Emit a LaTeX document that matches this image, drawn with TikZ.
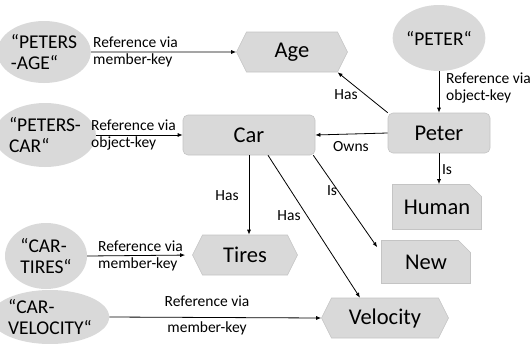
\documentclass[tikz,border=0pt]{standalone}
\usepackage{fontspec}
\setmainfont{Carlito}
\usetikzlibrary{shapes.geometric,shapes.symbols,shapes.misc,arrows.meta}
\definecolor{boxfill}{HTML}{D9D9D9}
\definecolor{boxline}{HTML}{C4C4C4}
\begin{document}
\begin{tikzpicture}[x=1pt,y=-1pt,
  keynode/.style={ellipse,fill=boxfill,draw=none,inner sep=0pt,align=left,
    font=\fontsize{19.5}{21.5}\selectfont},
  roundbox/.style={rectangle,rounded corners=5pt,fill=boxfill,draw=boxline,line width=0.6pt,
    inner sep=0pt,font=\fontsize{22.5}{26}\selectfont},
  hexbox/.style={signal,signal to=west and east,signal pointer angle=127,fill=boxfill,draw=boxline,
    line width=0.6pt,inner sep=0pt,font=\fontsize{22.5}{26}\selectfont},
  cutbox/.style={chamfered rectangle,chamfered rectangle corners=north east,
    chamfered rectangle xsep=6pt,chamfered rectangle ysep=6pt,fill=boxfill,draw=boxline,
    line width=0.6pt,inner sep=0pt,font=\fontsize{22.5}{26}\selectfont},
  lbl/.style={inner sep=0pt,align=left,font=\fontsize{15.5}{17}\selectfont},
  arr/.style={-{Latex[length=5pt,width=4pt]},line width=0.8pt,black},
]
\useasboundingbox (0,0) rectangle (530,343);

% key nodes
\node[keynode,minimum width=80pt,minimum height=62pt] (pa) at (44,52) {“PETERS\\-AGE“};
\node[keynode,minimum width=80pt,minimum height=66pt] (pk) at (439,38) {“PETER“};
\node[keynode,minimum width=80pt,minimum height=64pt] (pc) at (45,135) {“PETERS-\\CAR“};
\node[keynode,minimum width=82pt,minimum height=66pt] (ct) at (46,256) {“CAR-\\TIRES“};
\node[keynode,minimum width=94pt,minimum height=54pt] (cv) at (50,317) {“CAR-\\VELOCITY“};

% entity and attribute nodes
\node[hexbox,minimum width=111pt,minimum height=40pt] (age) at (292,52) {Age};
\node[roundbox,minimum width=132pt,minimum height=40pt] (car) at (249,135) {Car};
\node[roundbox,minimum width=102pt,minimum height=40pt] (peter) at (439,133) {Peter};
\node[cutbox,minimum width=89pt,minimum height=45pt] (human) at (437,207) {Human};
\node[cutbox,minimum width=89pt,minimum height=43pt] (new) at (426,262) {New};
\node[hexbox,minimum width=105pt,minimum height=40pt] (tires) at (245,255) {Tires};
\node[hexbox,minimum width=127pt,minimum height=40pt] (vel) at (385,318) {Velocity};

% connectors
\draw[arr] (pa) -- (age);
\node[lbl,anchor=west] (l1) at (93,52) {Reference via\\member-key};

\draw[arr] (pc) -- (car);
\node[lbl,anchor=west] (l2) at (91,135) {Reference via\\object-key};

\draw[arr] (pk) -- (peter);
\node[lbl,anchor=west] (l3) at (446,88) {Reference via\\object-key};

\draw[arr] (peter.north west) -- (age.-24);
\node[lbl] (l4) at (346,95) {Has};

\draw[arr] (peter.west) -- (car.east);
\node[lbl] (l5) at (351,147) {Owns};

\draw[arr] (peter.south) -- (peter.south |- human.north);
\node[lbl] (l6) at (447,170) {Is};

\draw[arr] (car.south) -- (car.south |- tires.north);
\node[lbl] (l7) at (227,196) {Has};

\draw[arr] ([xshift=-2pt]car.south east) -- ([xshift=-4pt,yshift=-7pt]new.north west);
\node[lbl] (l8) at (332,191) {Is};

\draw[arr] ([xshift=19pt]car.south) -- ([xshift=-25pt]vel.north);
\node[lbl] (l9) at (289,216) {Has};

\draw[arr,shorten >=7pt] (ct.east) -- (tires.west);
\node[lbl,anchor=west] (l10) at (98,256) {Reference via\\member-key};

\draw[arr] (cv.east) -- (vel.west);
\node[lbl,align=center] (l11) at (207,315) {Reference via\\[9pt]member-key};
\end{tikzpicture}
\end{document}
